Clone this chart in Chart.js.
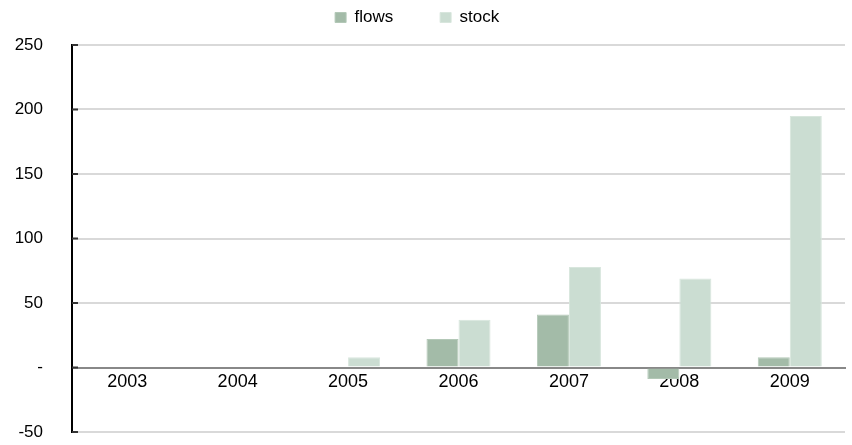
<!DOCTYPE html>
<html>
<head>
<meta charset="utf-8">
<script src="https://cdn.jsdelivr.net/npm/chart.js"></script>
<style>
  html, body { margin: 0; padding: 0; background: #fff; }
  #wrap { width: 852px; height: 445px; }
</style>
</head>
<body>
<div id="wrap"><canvas id="chart"></canvas></div>
<script>
const years = ["2003", "2004", "2005", "2006", "2007", "2008", "2009"];
const flows = [0, 0, 0, 22, 41, -9, 8];
const stock = [0, 0, 8, 37, 78, 69, 195];

Chart.defaults.font.family = "'Liberation Sans', Arial, sans-serif";
Chart.defaults.font.size = 17;
Chart.defaults.color = "#000";

// a bit more room under the legend
const legendGap = {
    id: "legendGap",
    beforeInit(chart) {
        const fit = chart.legend.fit;
        chart.legend.fit = function () {
            fit.bind(chart.legend)();
            this.height += 9;
        };
    }
};

// short dark ticks on the inner side of the y axis
const innerTicks = {
    id: "innerTicks",
    afterDraw(chart) {
        const y = chart.scales.y, ctx = chart.ctx;
        ctx.save();
        ctx.strokeStyle = "#333";
        ctx.lineWidth = 2;
        y.ticks.forEach((t) => {
            const py = y.getPixelForValue(t.value);
            ctx.beginPath();
            ctx.moveTo(y.right, py);
            ctx.lineTo(y.right + 6, py);
            ctx.stroke();
        });
        ctx.restore();
    }
};

new Chart(document.getElementById("chart").getContext("2d"), {
    type: "bar",
    data: {
        labels: years,
        datasets: [
            { label: "flows", data: flows, backgroundColor: "#a3bba8", borderColor: "#b3c8b7", borderWidth: 1, categoryPercentage: 0.58, barPercentage: 1 },
            { label: "stock", data: stock, backgroundColor: "#cbddd2", borderColor: "#d8e6dd", borderWidth: 1, categoryPercentage: 0.58, barPercentage: 1 }
        ]
    },
    options: {
        responsive: true,
        maintainAspectRatio: false,
        animation: false,
        layout: { padding: { left: 13, right: 7, top: 0, bottom: 13 } },
        plugins: {
            legend: {
                position: "top",
                labels: {
                    boxWidth: 11, boxHeight: 10, padding: 9,
                    generateLabels: (chart) => Chart.defaults.plugins.legend.labels.generateLabels(chart).map((it, i) => {
                        it.text = it.text + (i === 0 ? "        " : "     ");
                        return it;
                    })
                }
            },
            tooltip: { enabled: false }
        },
        scales: {
            x: {
                position: { y: 0 },
                afterFit: (s) => { s.height = 0; },
                grid: { display: false, drawTicks: false },
                border: { color: "#888", width: 2 },
                ticks: { padding: 4, font: { size: 18 } }
            },
            y: {
                min: -50,
                max: 250,
                afterFit: (s) => { s.width = 59; s.paddingTop = 10; s.paddingBottom = 10; },
                ticks: {
                    stepSize: 50,
                    padding: 29,
                    callback: (v) => v === 0 ? "-" : v
                },
                grid: { color: "#d9d9d9", lineWidth: 2, drawTicks: false },
                border: { color: "#000", width: 2 }
            }
        }
    },
    plugins: [legendGap, innerTicks]
});
</script>
</body>
</html>
